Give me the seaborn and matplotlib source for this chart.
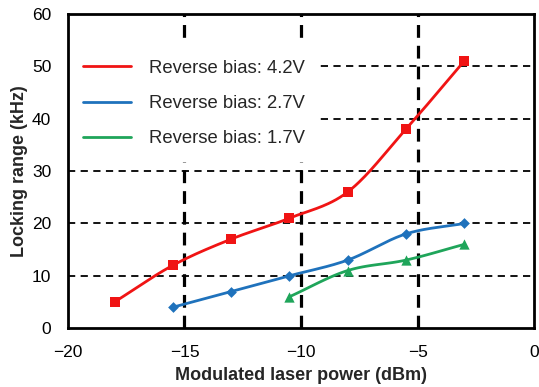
import numpy as np
import pandas as pd
import matplotlib
matplotlib.use("Agg")
import matplotlib.pyplot as plt
import seaborn as sns

# Locking range vs modulated laser power for three reverse-bias settings
power_42 = [-18, -15.5, -13, -10.5, -8, -5.5, -3]
range_42 = [5, 12, 17, 21, 26, 38, 51]
power_27 = [-15.5, -13, -10.5, -8, -5.5, -3]
range_27 = [4, 7, 10, 13, 18, 20]
power_17 = [-10.5, -8, -5.5, -3]
range_17 = [6, 11, 13, 16]
labels = ["Reverse bias: 4.2V", "Reverse bias: 2.7V", "Reverse bias: 1.7V"]
colors = ["#F01414", "#1F72BC", "#1FA55A"]
markers = ["s", "D", "^"]
msizes = [60, 30, 55]

x_ticks = [-20, -15, -10, -5, 0]
y_ticks = [0, 10, 20, 30, 40, 50, 60]


def smooth(xs, ys, n=30):
    """Catmull-Rom curve through the given points (for a smoothed line)."""
    p = np.column_stack([xs, ys]).astype(float)
    p = np.vstack([2 * p[0] - p[1], p, 2 * p[-1] - p[-2]])
    out = []
    for i in range(1, len(p) - 2):
        p0, p1, p2, p3 = p[i - 1], p[i], p[i + 1], p[i + 2]
        t = np.linspace(0, 1, n, endpoint=False)[:, None]
        seg = 0.5 * ((2 * p1) + (-p0 + p2) * t
                     + (2 * p0 - 5 * p1 + 4 * p2 - p3) * t ** 2
                     + (-p0 + 3 * p1 - 3 * p2 + p3) * t ** 3)
        out.append(seg)
    out.append(p[-2][None, :])
    c = np.vstack(out)
    return c[:, 0], c[:, 1]


sns.set_theme(style="white")
plt.rcParams["font.family"] = ["Liberation Sans", "DejaVu Sans"]

fig = plt.figure(figsize=(5.39, 3.87), dpi=100)
ax = fig.add_axes([0.126, 0.152, 0.865, 0.812])

series = [(power_42, range_42), (power_27, range_27), (power_17, range_17)]

curve_frames, point_frames = [], []
for (xs, ys), lab in zip(series, labels):
    cx, cy = smooth(xs, ys)
    curve_frames.append(pd.DataFrame({"power": cx, "range": cy, "bias": lab}))
    point_frames.append(pd.DataFrame({"power": xs, "range": ys, "bias": lab}))
curves = pd.concat(curve_frames, ignore_index=True)
points = pd.concat(point_frames, ignore_index=True)

palette = dict(zip(labels, colors))
sns.lineplot(data=curves, x="power", y="range", hue="bias", palette=palette,
             sort=False, estimator=None, units="bias", linewidth=2.0, ax=ax, zorder=3)
for lab, m, s in zip(labels, markers, msizes):
    sub = points[points["bias"] == lab]
    sns.scatterplot(data=sub, x="power", y="range", color=palette[lab], marker=m,
                    s=s, linewidth=0, ax=ax, zorder=4, legend=False)

# dashed grid
for yv in y_ticks[1:-1]:
    ax.axhline(yv, color="black", lw=1.3, ls=(0, (4, 3)), zorder=1)
for xv in x_ticks[1:-1]:
    ax.axvline(xv, color="black", lw=2.3, ls=(0, (4, 2.5)), zorder=1)

ax.set_xlim(-20, 0)
ax.set_ylim(0, 60)
ax.set_xticks(x_ticks)
ax.set_yticks(y_ticks)
ax.tick_params(axis="both", labelsize=12.5, colors="black", direction="out",
               length=3, width=1)
ax.tick_params(axis="x", pad=9)
ax.tick_params(axis="y", pad=9)
for sp in ax.spines.values():
    sp.set_color("black")
    sp.set_linewidth(2)
    sp.set_zorder(6)

ax.set_xlabel("Modulated laser power (dBm)", fontsize=13, fontweight="bold", labelpad=5)
ax.set_ylabel("Locking range (kHz)", fontsize=13, fontweight="bold", labelpad=3)

leg = ax.legend(loc="upper left", bbox_to_anchor=(0.0, 0.902), borderaxespad=0,
                fontsize=13.3, frameon=True, facecolor="white", edgecolor="none",
                framealpha=1, handlelength=2.6, handletextpad=1.0,
                labelspacing=1.0, borderpad=0.8, fancybox=False)
leg.set_zorder(5)
for line in leg.get_lines():
    line.set_linewidth(2)

fig.savefig("out.png", dpi=100)
